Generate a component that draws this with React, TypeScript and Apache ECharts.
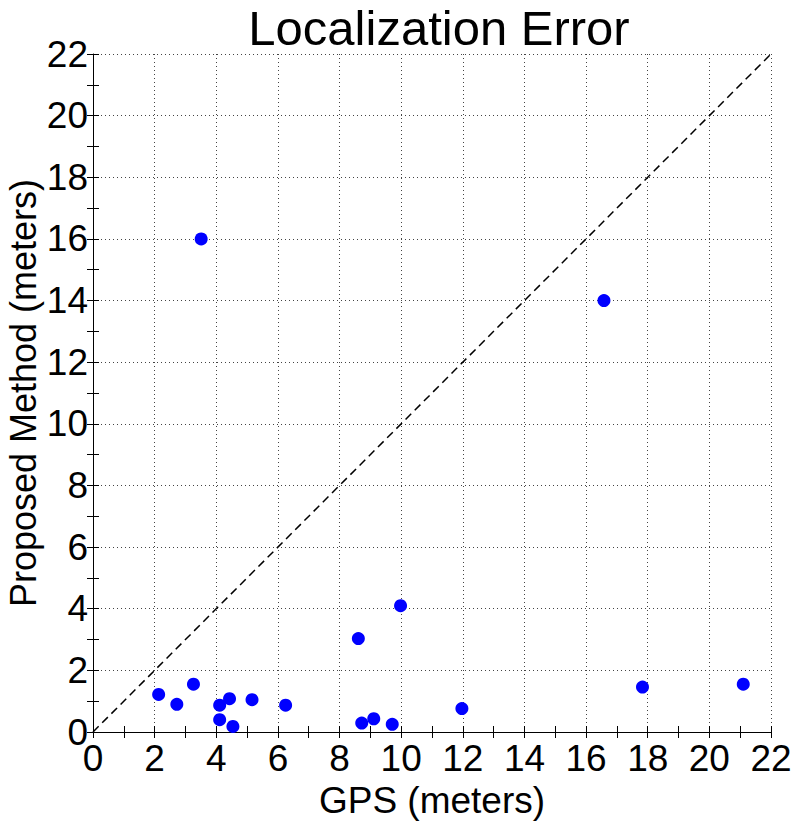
import React, { useEffect, useRef } from "react";
import * as echarts from "echarts";

const gpsError: number[] = [2.13, 2.72, 3.26, 4.11, 4.43, 5.16, 4.11, 4.54, 6.25, 8.61, 9.98, 8.72, 9.11, 9.71, 11.97, 17.83, 21.1, 3.51, 16.58];
const proposedError: number[] = [1.22, 0.9, 1.55, 0.87, 1.08, 1.05, 0.4, 0.18, 0.87, 3.03, 4.1, 0.29, 0.43, 0.25, 0.76, 1.46, 1.55, 16.0, 14.0];
const referenceLine: number[][] = [[0, 0], [22, 22]];
const axisMin = 0;
const axisMax = 22;
const axisInterval = 2;

const FONT = "'Liberation Sans', Arial, sans-serif";

export default function App() {
  const ref = useRef<HTMLDivElement>(null);
  useEffect(() => {
    if (!ref.current) return;
    const chart = echarts.init(ref.current, undefined, { renderer: "svg" });
    const points = gpsError.map((x, i) => [x, proposedError[i]]);
    const gridLine = { show: true, lineStyle: { color: "#444", width: 1, type: [1, 3] as any } };
    const baseAxis = (name: string, pos: string, showLabel: boolean) => ({
      type: "value",
      min: axisMin,
      max: axisMax,
      interval: axisInterval,
      position: pos,
      name,
      nameLocation: "middle",
      nameMoveOverlap: false,
      axisLine: { show: showLabel, lineStyle: { color: "#000", width: 1 } },
      axisTick: { show: true, inside: true, length: 6, lineStyle: { color: "#000" } },
      minorTick: { show: true, splitNumber: 2, length: 6, lineStyle: { color: "#000" } },
      axisLabel: { show: showLabel, color: "#000", fontSize: 37, fontFamily: FONT },
      splitLine: showLabel ? gridLine : { show: false },
    });
    chart.setOption({
      animation: false,
      backgroundColor: "#fff",
      title: {
        text: "Localization Error",
        left: 434,
        textAlign: "center",
        top: -2,
        textStyle: { fontSize: 49, fontWeight: "normal", color: "#000", fontFamily: FONT },
      },
      grid: { left: 93, right: 29, top: 54, bottom: 99, outerBoundsMode: "none", containLabel: false },
      xAxis: [
        {
          ...baseAxis("GPS (meters)", "bottom", true),
          nameGap: 50,
          nameTextStyle: { fontSize: 37, color: "#000", fontFamily: FONT },
          axisLabel: { show: true, color: "#000", fontSize: 37, fontFamily: FONT, margin: 8 },
        },
        { ...baseAxis("", "top", false) },
      ],
      yAxis: [
        {
          ...baseAxis("Proposed Method (meters)", "left", true),
          nameGap: 52,
          nameTextStyle: { fontSize: 36, color: "#000", fontFamily: FONT },
          axisLabel: { show: true, color: "#000", fontSize: 37, fontFamily: FONT, margin: 5 },
        },
        { ...baseAxis("", "right", false) },
      ],
      series: [
        {
          type: "line",
          data: referenceLine,
          symbol: "none",
          lineStyle: { color: "#000", width: 1.5, type: [8, 5] },
          silent: true,
        },
        {
          type: "scatter",
          data: points,
          symbol: "circle",
          symbolSize: 13,
          itemStyle: { color: "#0000ff", opacity: 1 },
        },
      ],
    });
    return () => chart.dispose();
  }, []);
  return <div ref={ref} style={{ width: 800, height: 831, position: "absolute", left: 0, top: 0 }} />;
}
